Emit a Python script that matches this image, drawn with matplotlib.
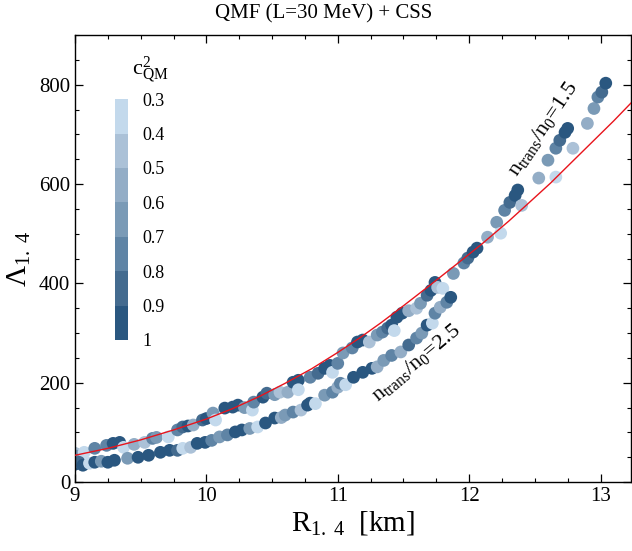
import numpy as np
import matplotlib
matplotlib.use("Agg")
import matplotlib.pyplot as plt
from matplotlib.colors import ListedColormap, BoundaryNorm
from matplotlib.ticker import MultipleLocator

plt.rcParams['font.family'] = ['Liberation Serif', 'DejaVu Serif']
plt.rcParams['mathtext.fontset'] = 'custom'
plt.rcParams['mathtext.rm'] = 'Liberation Serif'
plt.rcParams['mathtext.it'] = 'Liberation Serif:italic'

# ---- data: upper band (n_trans/n0 = 1.5) ----
R_up = [9.00, 9.02, 9.07, 9.15, 9.24, 9.29, 9.34, 9.37, 9.45, 9.53, 9.59, 9.62, 9.71, 9.78, 9.82,
        9.86, 9.90, 9.97, 10.00, 10.05, 10.07, 10.14, 10.20, 10.24, 10.29, 10.35, 10.36, 10.43,
        10.46, 10.52, 10.56, 10.62, 10.66, 10.70, 10.70, 10.79, 10.85, 10.90, 10.94, 10.96, 11.00,
        11.04, 11.11, 11.15, 11.19, 11.24, 11.30, 11.34, 11.38, 11.41, 11.43, 11.45, 11.49, 11.54,
        11.60, 11.63, 11.68, 11.71, 11.74, 11.76, 11.80, 11.88, 11.96, 11.99, 12.03, 12.06, 12.14,
        12.21, 12.24, 12.27, 12.31, 12.35, 12.37, 12.40, 12.53, 12.60, 12.66, 12.66, 12.69, 12.73,
        12.75, 12.79, 12.90, 12.95, 12.98, 13.01, 13.04]
L_up = [58, 52, 60, 68, 74, 78, 80, 70, 76, 80, 88, 90, 91, 105, 111,
        113, 115, 125, 128, 139, 125, 149, 151, 155, 150, 145, 161, 171,
        179, 176, 181, 181, 201, 205, 186, 211, 219, 229, 235, 221, 239,
        260, 270, 282, 286, 282, 296, 302, 310, 316, 305, 332, 340, 345,
        350, 360, 376, 386, 402, 392, 390, 420, 441, 451, 463, 471, 493,
        523, 501, 547, 563, 577, 588, 557, 612, 648, 614, 672, 688, 704,
        712, 672, 722, 752, 775, 785, 803]
C_up = [0.4, 0.6, 0.3, 0.7, 0.7, 0.9, 1.0, 0.3, 0.5, 0.4, 0.7, 0.6, 0.3, 0.7, 0.8,
        0.9, 0.5, 0.8, 0.9, 0.6, 0.3, 1.0, 0.9, 1.0, 0.6, 0.3, 0.7, 0.9,
        0.8, 0.6, 0.4, 0.5, 1.0, 0.9, 0.3, 0.7, 0.8, 1.0, 0.9, 0.3, 0.7,
        0.6, 0.7, 0.9, 1.0, 0.4, 0.6, 0.7, 0.8, 0.9, 0.3, 1.0, 0.9, 0.5,
        0.4, 0.6, 0.8, 0.9, 1.0, 0.4, 0.3, 0.6, 0.7, 0.8, 0.9, 1.0, 0.5,
        0.6, 0.3, 0.7, 0.8, 0.9, 1.0, 0.4, 0.5, 0.6, 0.3, 0.7, 0.8, 0.9,
        1.0, 0.4, 0.5, 0.6, 0.7, 0.8, 1.0]

# ---- data: lower band (n_trans/n0 = 2.5) ----
R_lo = [9.00, 9.03, 9.06, 9.11, 9.15, 9.20, 9.25, 9.30, 9.40, 9.48, 9.56, 9.65, 9.72, 9.78,
        9.82, 9.88, 9.93, 9.99, 10.04, 10.10, 10.16, 10.22, 10.27, 10.33, 10.39, 10.45, 10.52,
        10.57, 10.60, 10.66, 10.72, 10.77, 10.79, 10.83, 10.90, 10.96, 11.00, 11.02, 11.06,
        11.12, 11.19, 11.26, 11.30, 11.35, 11.41, 11.48, 11.54, 11.60, 11.64, 11.68, 11.72,
        11.74, 11.78, 11.83, 11.86]
L_lo = [36, 40, 34, 38, 40, 42, 40, 44, 48, 50, 54, 60, 64, 64,
        68, 70, 78, 80, 84, 91, 95, 101, 105, 108, 111, 119, 129,
        130, 135, 141, 145, 155, 159, 158, 175, 181, 191, 199, 196,
        211, 221, 229, 232, 245, 255, 262, 276, 290, 300, 316, 320,
        340, 352, 362, 372]
C_lo = [1.0, 0.8, 0.9, 0.3, 0.9, 0.6, 1.0, 0.9, 0.6, 1.0, 0.9, 1.0, 0.9, 0.8,
        0.3, 0.4, 0.9, 1.0, 0.7, 0.6, 0.7, 1.0, 0.9, 0.6, 0.3, 1.0, 0.9,
        0.5, 0.6, 0.7, 0.4, 1.0, 0.9, 0.3, 0.6, 0.7, 0.5, 0.7, 0.3,
        1.0, 0.9, 1.0, 0.5, 0.6, 0.7, 0.5, 0.8, 0.7, 0.6, 1.0, 0.3,
        0.7, 0.5, 0.7, 0.9]

# ---- red fit curve ----
R_fit = [9.0, 9.25, 9.5, 9.75, 10.0, 10.2, 10.4, 10.6, 10.8, 11.0, 11.16, 11.33, 11.5,
         11.7, 11.93, 12.1, 12.3, 12.45, 12.62, 12.75, 12.9, 13.1, 13.25]
L_fit = [54, 68, 85, 105, 127, 148, 172, 199, 228, 261, 289, 321, 355,
         396, 444, 480, 525, 561, 602, 636, 675, 727, 768]

# ---- colour bar ----
c_bounds = [0.3, 0.4, 0.5, 0.6, 0.7, 0.8, 0.9, 1.0]
c_labels = ['0.3', '0.4', '0.5', '0.6', '0.7', '0.8', '0.9', '1']
c_colors = ['#c3d9ec', '#abc1d7', '#93adc6', '#7a9ab6', '#5f84a5', '#446b8f', '#2a5780']

x_ticks = [9, 10, 11, 12, 13]
y_ticks = [0, 200, 400, 600, 800]

cmap = ListedColormap(c_colors)
norm = BoundaryNorm(c_bounds, cmap.N, clip=True)

fig = plt.figure(figsize=(6.32, 5.51), dpi=100)
ax = fig.add_axes([0.1187, 0.125, 0.8793, 0.8115])

ax.scatter(R_up, L_up, c=C_up, cmap=cmap, norm=norm, s=84, linewidths=0, zorder=2)
ax.scatter(R_lo, L_lo, c=C_lo, cmap=cmap, norm=norm, s=84, linewidths=0, zorder=2)
ax.plot(R_fit, L_fit, color='#e8141c', lw=1.0, zorder=3)

ax.set_xlim(9, 13.23)
ax.set_ylim(0, 900)
ax.set_xticks(x_ticks)
ax.set_yticks(y_ticks)
ax.xaxis.set_minor_locator(MultipleLocator(0.25))
ax.yaxis.set_minor_locator(MultipleLocator(50))
ax.tick_params(which='both', direction='in', top=True, right=True, labelsize=15)
ax.tick_params(which='major', length=6, width=0.9)
ax.tick_params(which='minor', length=3, width=0.8)
for sp in ax.spines.values():
    sp.set_linewidth(1.0)

ax.set_xlabel(r'$\mathrm{R_{1.\ 4}}\ \ [\mathrm{km}]$', fontsize=21, labelpad=2)
ax.set_ylabel(r'$\Lambda_{1.\ 4}$', fontsize=21, labelpad=4)
ax.set_title('QMF (L=30 MeV) + CSS', fontsize=15, pad=12, x=0.448)

ax.text(12.56, 712, r'$\mathrm{n_{trans}/n_0}$=1.5', fontsize=16,
        rotation=56, ha='center', va='center', rotation_mode='anchor')
ax.text(11.60, 241, r'$\mathrm{n_{trans}/n_0}$=2.5', fontsize=16,
        rotation=40, ha='center', va='center', rotation_mode='anchor')

# colour bar inset
cax = fig.add_axes([0.182, 0.383, 0.0206, 0.437])
sm = matplotlib.cm.ScalarMappable(cmap=cmap, norm=norm)
cb = fig.colorbar(sm, cax=cax, boundaries=c_bounds, ticks=c_bounds)
cb.outline.set_visible(False)
cb.ax.set_yticklabels(c_labels)
cb.ax.tick_params(length=0, labelsize=13, pad=10)
cb.ax.invert_yaxis()
fig.text(150 / 632, 1 - 70 / 551, r'$\mathrm{c^2_{QM}}$', fontsize=16, ha='center', va='center')

fig.savefig('out.png', dpi=100)
